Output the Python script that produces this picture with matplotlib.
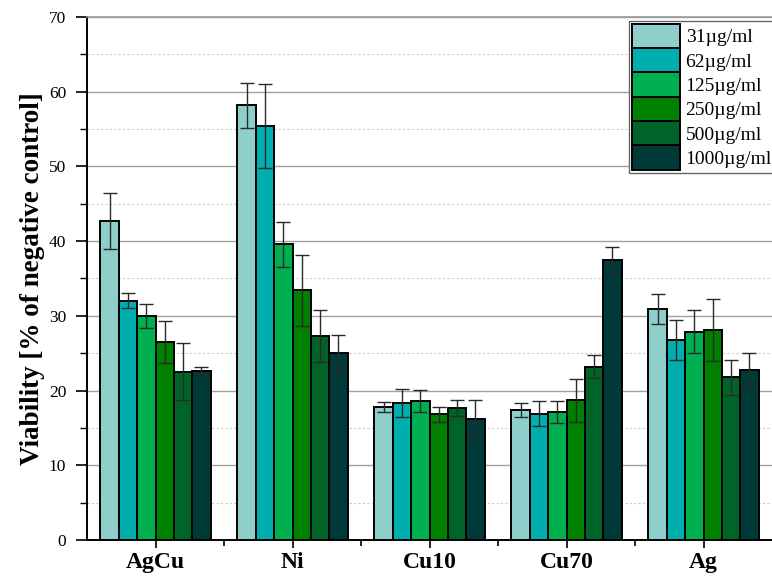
import numpy as np
import matplotlib.pyplot as plt
from matplotlib.ticker import MultipleLocator

plt.rcParams['font.family'] = ['Liberation Serif', 'DejaVu Serif']

groups = ["AgCu", "Ni", "Cu10", "Cu70", "Ag"]
doses = ["31µg/ml", "62µg/ml", "125µg/ml", "250µg/ml", "500µg/ml", "1000µg/ml"]
colors = ["#8ecfcb", "#00aeae", "#00b050", "#008000", "#006428", "#003a38"]

# viability per dose (rows) for each material (columns)
v31 = [42.7, 58.2, 17.8, 17.4, 30.9]
v62 = [32.0, 55.4, 18.3, 16.9, 26.8]
v125 = [30.0, 39.6, 18.6, 17.1, 27.9]
v250 = [26.5, 33.4, 16.8, 18.7, 28.1]
v500 = [22.5, 27.3, 17.7, 23.2, 21.8]
v1000 = [22.6, 25.0, 16.2, 37.5, 22.8]

e31 = [3.7, 3.0, 0.65, 0.95, 2.0]
e62 = [1.0, 5.6, 1.9, 1.65, 2.65]
e125 = [1.6, 3.0, 1.5, 1.45, 2.85]
e250 = [2.8, 4.7, 1.0, 2.9, 4.15]
e500 = [3.8, 3.5, 1.05, 1.55, 2.35]
e1000 = [0.5, 2.5, 2.5, 1.75, 2.2]

vals = [v31, v62, v125, v250, v500, v1000]
errs = [e31, e62, e125, e250, e500, e1000]

fig = plt.figure(figsize=(7.72, 5.79), dpi=100)
ax = fig.add_axes([0.1127, 0.0674, 0.8873, 0.9032])

x = np.arange(len(groups))
w = 0.134
for i in range(len(doses)):
    pos = x + (i - 2.5) * w
    ax.bar(pos, vals[i], w, color=colors[i], edgecolor="black", linewidth=1.4,
           label=doses[i], zorder=3)
    ax.errorbar(pos, vals[i], yerr=errs[i], fmt="none", ecolor="#2a2a2a",
                elinewidth=1.0, capsize=5, capthick=1.0, zorder=4)

ax.set_xlim(-0.5, 4.5)
ax.set_ylim(0, 70)
ax.yaxis.set_major_locator(MultipleLocator(10))
ax.yaxis.set_minor_locator(MultipleLocator(5))
ax.set_xticks(x)
ax.set_xticks(x[:-1] + 0.5, minor=True)
ax.set_xticklabels(groups, fontsize=17, fontweight="bold")
ax.tick_params(axis="y", labelsize=12.5, direction="out", length=8, width=1.2, pad=7)
ax.tick_params(axis="y", which="minor", direction="out", length=5, width=1.0)
ax.tick_params(axis="x", which="major", direction="out", length=6, width=1.2, pad=3)
ax.tick_params(axis="x", which="minor", direction="out", length=4, width=1.2)

ax.grid(axis="y", which="major", color="#a0a0a0", linewidth=1.0, zorder=0)
ax.grid(axis="y", which="minor", color="#cccccc", linestyle=(0, (2, 2)), linewidth=0.8, zorder=0)

ax.spines["left"].set_linewidth(1.4)
ax.spines["bottom"].set_linewidth(1.4)
ax.spines["right"].set_visible(False)
ax.spines["top"].set_color("#999999")
ax.spines["top"].set_linewidth(1.2)

ax.set_ylabel("Viability [% of negative control]", fontsize=19.5, fontweight="bold", labelpad=3)

leg = ax.legend(loc="upper right", bbox_to_anchor=(1.004, 0.993), fontsize=14,
                frameon=True, fancybox=False, edgecolor="#666666", framealpha=1,
                handlelength=2.45, handleheight=1.55, labelspacing=0.0,
                handletextpad=0.3, borderpad=0.15, borderaxespad=0.0)
leg.get_frame().set_linewidth(1.0)

fig.savefig("out.png", dpi=100)
